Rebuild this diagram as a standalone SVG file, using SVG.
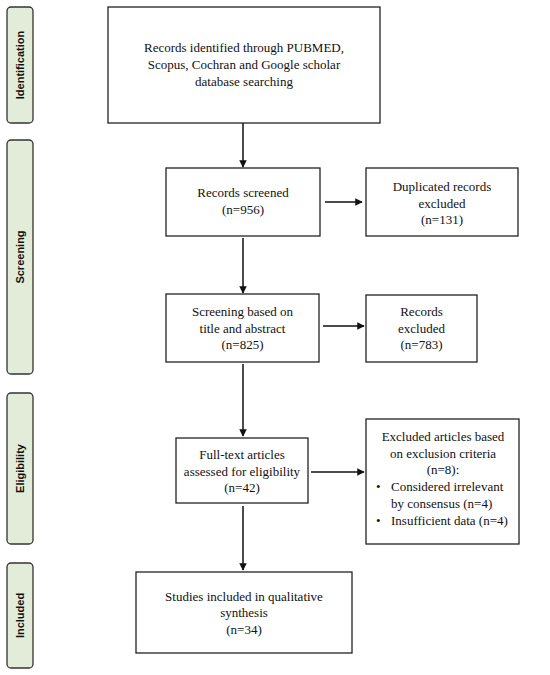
<svg xmlns="http://www.w3.org/2000/svg" width="550" height="675" viewBox="0 0 550 675">
<style>
.box{fill:#fff;stroke:#222;stroke-width:1.3}
.pill{fill:#e3ecd8;stroke:#333;stroke-width:1.3}
.t{font-family:"Liberation Serif","Times New Roman",serif;font-size:13px;fill:#111;text-anchor:middle}
.tl{font-family:"Liberation Serif","Times New Roman",serif;font-size:13px;fill:#111}
.p{font-family:"Liberation Sans",Arial,sans-serif;font-size:11px;font-weight:bold;fill:#111;text-anchor:middle}
.c{stroke:#111;stroke-width:1.5;fill:none;marker-end:url(#ah)}
</style>
<defs>
<marker id="ah" viewBox="0 0 10 10" refX="9" refY="5" markerWidth="5" markerHeight="5" orient="auto" markerUnits="strokeWidth">
<path d="M0,0 L10,5 L0,10 z" fill="#111"/>
</marker>
</defs>
<rect width="550" height="675" fill="#fff"/>
<g id="phase-identification">
<rect class="pill" x="7" y="7" width="26" height="116" rx="4"/>
<text class="p" transform="translate(24,65) rotate(-90)">Identification</text>
</g>
<g id="phase-screening">
<rect class="pill" x="7" y="140" width="26" height="234" rx="4"/>
<text class="p" transform="translate(24,257) rotate(-90)">Screening</text>
</g>
<g id="phase-eligibility">
<rect class="pill" x="7" y="393" width="26" height="151" rx="4"/>
<text class="p" transform="translate(24,468.5) rotate(-90)">Eligibility</text>
</g>
<g id="phase-included">
<rect class="pill" x="7" y="563" width="26" height="105" rx="4"/>
<text class="p" transform="translate(24,615.5) rotate(-90)">Included</text>
</g>
<g id="connectors">
<line class="c" x1="243" y1="123" x2="243" y2="167"/>
<line class="c" x1="325" y1="202" x2="362" y2="202"/>
<line class="c" x1="243" y1="238" x2="243" y2="293"/>
<line class="c" x1="323" y1="326" x2="364" y2="326"/>
<line class="c" x1="243" y1="364" x2="243" y2="436"/>
<line class="c" x1="311" y1="472" x2="364" y2="472"/>
<line class="c" x1="243" y1="506" x2="243" y2="570"/>
</g>
<g id="records-identified">
<rect class="box" x="108" y="7" width="272" height="116"/>
<text class="t" x="244" y="52">Records identified through PUBMED,</text>
<text class="t" x="244" y="69">Scopus, Cochran and Google scholar</text>
<text class="t" x="244" y="86">database searching</text>
</g>
<g id="records-screened">
<rect class="box" x="166" y="168" width="154" height="68"/>
<text class="t" x="243" y="197">Records screened</text>
<text class="t" x="243" y="214">(n=956)</text>
</g>
<g id="duplicates-excluded">
<rect class="box" x="366" y="168" width="152" height="68"/>
<text class="t" x="442" y="191">Duplicated records</text>
<text class="t" x="442" y="207.5">excluded</text>
<text class="t" x="442" y="224">(n=131)</text>
</g>
<g id="title-abstract-screening">
<rect class="box" x="166" y="294" width="153" height="68"/>
<text class="t" x="242.5" y="316">Screening based on</text>
<text class="t" x="242.5" y="332.5">title and abstract</text>
<text class="t" x="242.5" y="349">(n=825)</text>
</g>
<g id="records-excluded">
<rect class="box" x="366" y="295" width="111" height="67"/>
<text class="t" x="421.5" y="316">Records</text>
<text class="t" x="421.5" y="332.5">excluded</text>
<text class="t" x="421.5" y="349">(n=783)</text>
</g>
<g id="full-text-assessed">
<rect class="box" x="176" y="438" width="132" height="65"/>
<text class="t" x="242" y="459">Full-text articles</text>
<text class="t" x="242" y="475.5">assessed for eligibility</text>
<text class="t" x="242" y="492">(n=42)</text>
</g>
<g id="articles-excluded">
<rect class="box" x="366" y="419" width="153" height="125"/>
<text class="t" x="443" y="441">Excluded articles based</text>
<text class="t" x="443" y="458">on exclusion criteria</text>
<text class="t" x="443" y="474">(n=8):</text>
<text class="tl" x="376" y="491">•</text>
<text class="tl" x="391" y="491">Considered irrelevant</text>
<text class="tl" x="391" y="508">by consensus (n=4)</text>
<text class="tl" x="376" y="525">•</text>
<text class="tl" x="391" y="525">Insufficient data (n=4)</text>
</g>
<g id="studies-included">
<rect class="box" x="136" y="572" width="216" height="81"/>
<text class="t" x="244" y="600.5">Studies included in qualitative</text>
<text class="t" x="244" y="617">synthesis</text>
<text class="t" x="244" y="633.5">(n=34)</text>
</g>
</svg>
